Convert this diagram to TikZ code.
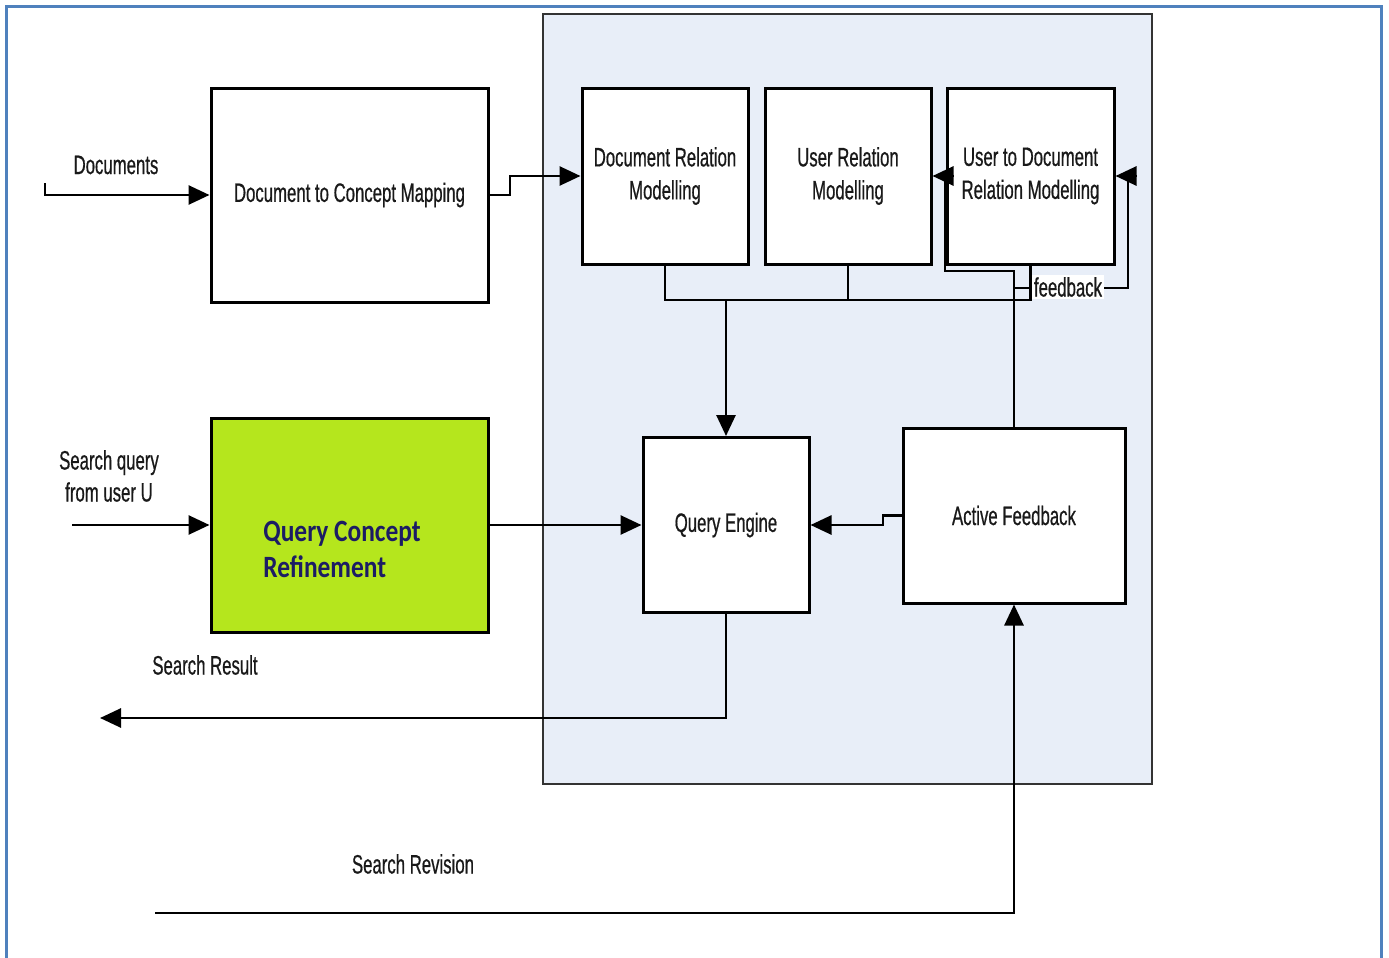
\documentclass[tikz,border=0pt]{standalone}
\usepackage{fontspec}
\setmainfont{Liberation Sans}[FakeStretch=0.63, FakeBold=0.6]
\newfontfamily\calfont{Carlito}[FakeStretch=0.82]
\usetikzlibrary{arrows.meta}
\definecolor{frameblue}{RGB}{79,129,189}
\definecolor{panelfill}{RGB}{232,238,248}
\definecolor{limegreen}{RGB}{181,230,29}
\definecolor{navytext}{RGB}{28,28,100}
\definecolor{txt}{RGB}{25,25,25}
\tikzset{
  box/.style={draw=black, line width=1.5pt, fill=white, inner sep=2pt, align=center,
    text=txt, font=\fontsize{13.3}{16.5}\selectfont},
  line/.style={draw=black, line width=1.35pt},
  conn/.style={line, -{Triangle[length=10.5pt,width=9.5pt]}},
  lbl/.style={text=txt, font=\fontsize{13.3}{16}\selectfont, align=center, inner sep=1pt}
}
\begin{document}
\begin{tikzpicture}[x=0.5pt,y=-0.5pt]
\useasboundingbox (0,0) rectangle (1389,958);
% outer frame
\draw[frameblue, line width=1.5pt] (6,970) -- (6,6) -- (1381,6) -- (1381,970);
% panel
\draw[fill=panelfill, draw=black!80, line width=1.1pt] (543,14) rectangle (1152,784);
% boxes
\node[box, minimum width=138.5pt, minimum height=107pt] (d2c) at (349.5,195) {Document to Concept Mapping};
\node[box, minimum width=83pt, minimum height=88pt] (dr) at (665,176) {Document Relation\\Modelling};
\node[box, minimum width=83pt, minimum height=88pt] (ur) at (848,176) {User Relation\\Modelling};
\node[box, minimum width=83.5pt, minimum height=88pt] (udr) at (1030.5,176) {User to Document\\Relation Modelling};
\node[box, fill=limegreen, minimum width=138.5pt, minimum height=107pt] (qcr) at (349.5,525) {};
\node[anchor=west, align=left, inner sep=0pt, text=navytext,
  font=\calfont\bfseries\fontsize{15.5}{18}\selectfont] (qcrtext) at (263,549) {Query Concept\\Refinement};
\node[box, minimum width=83pt, minimum height=87.5pt] (qe) at (726,525) {Query Engine};
\node[box, minimum width=111pt, minimum height=87.5pt] (af) at (1014,515.5) {Active Feedback};
% free labels
\node[lbl] (ldocs) at (116,165) {Documents};
\node[lbl] (lsq) at (109,476) {Search query\\from user U};
\node[lbl] (lsr) at (205,665) {Search Result};
\node[lbl] (lrev) at (413,864) {Search Revision};
% coordinates
\coordinate (docin) at (45,183);
\coordinate (sqin) at (72,525);
\coordinate (srout) at (100,718);
\coordinate (revin) at (155,913);
% connectors
\draw[conn] (docin) -- (45,195) -- (d2c.west);
\draw[conn] (d2c.east) -- (510,195) |- (dr.west);
\draw[conn] (sqin) -- (qcr.west);
\draw[conn] (qcr.east) -- (qe.west);
\draw[conn] (af.west) -- (883,515.5) -- (883,525) -- (qe.east);
\draw[conn] (qe.south) -- (726,718) -- (srout);
\draw[conn] (revin) -- (1014,913) -- (af.south);
% bus from modelling boxes
\draw[line] (dr.south) -- (665,300) -- (1030.5,300) -- (udr.south);
\draw[line] (ur.south) -- (848,300);
\draw[conn] (726,300) -- (qe.north);
% feedback loops
\draw[line] (af.north) -- (1014,271) -- (945,271) -- (945,176) -- (953,176);
\draw[conn] (953,176) -- (ur.east);
\draw[line] (1014,288) -- (1128,288) -- (1128,176) -- (1136,176);
\draw[conn] (1136,176) -- (udr.east);
\node[lbl, fill=white] (lfb) at (1068,287) {feedback};
\end{tikzpicture}
\end{document}
